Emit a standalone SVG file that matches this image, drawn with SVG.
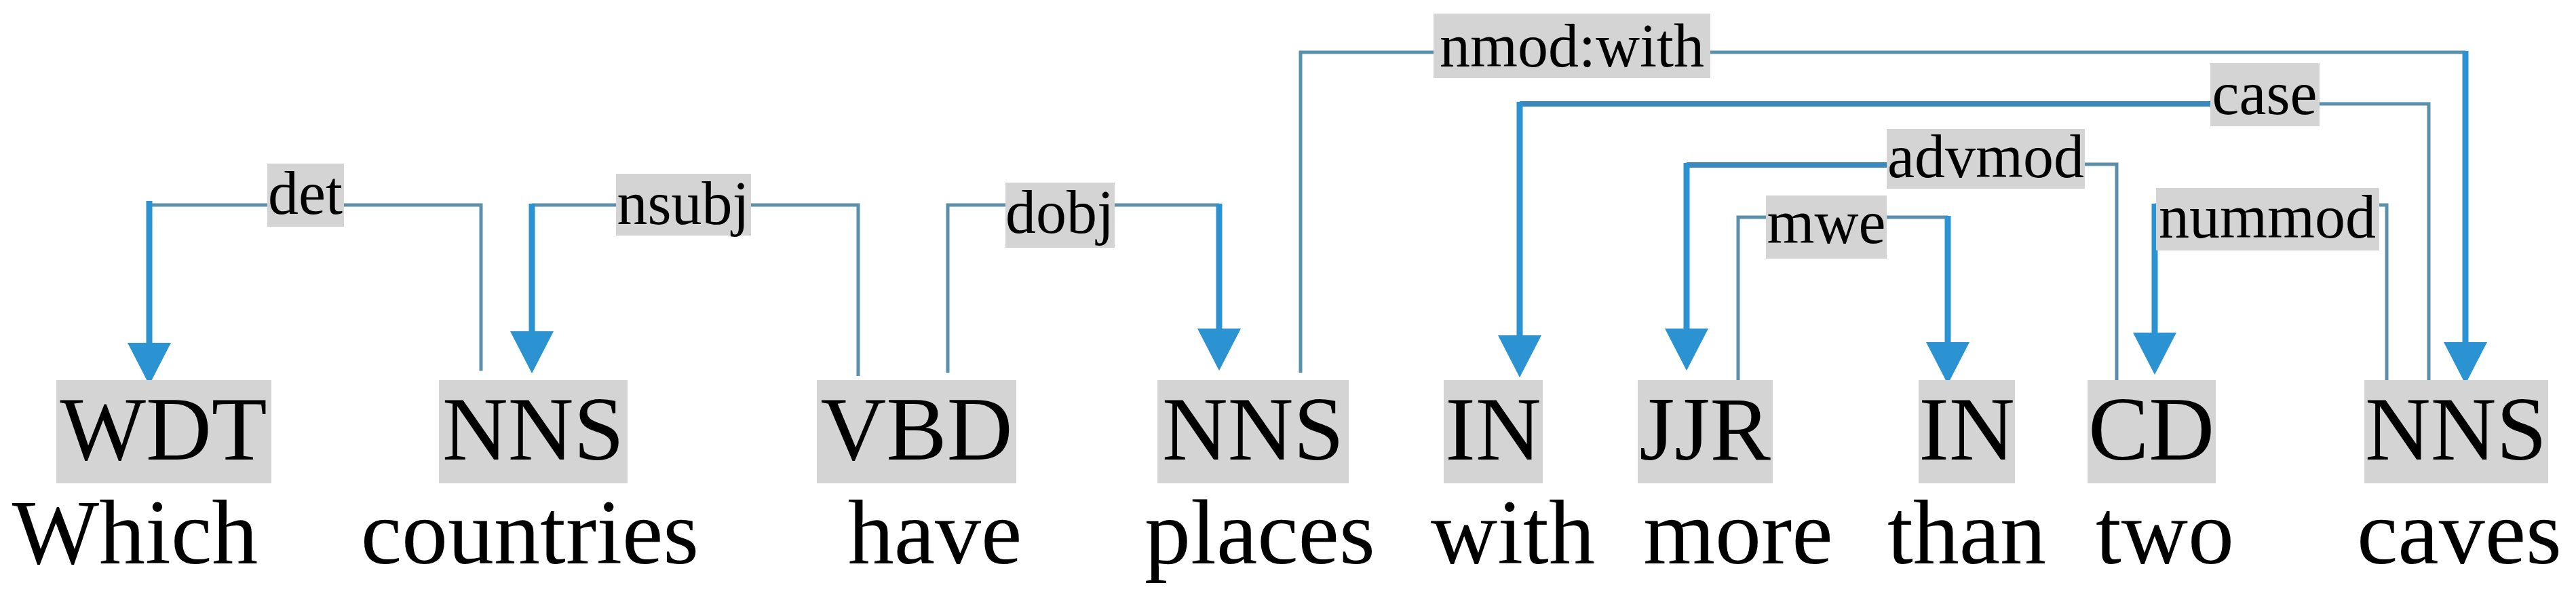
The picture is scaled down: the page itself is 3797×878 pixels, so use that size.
<svg xmlns="http://www.w3.org/2000/svg" width="3797" height="878" viewBox="0 0 3797 878">
<style>
.bg{fill:#ffffff}
.tagbox{fill:#d4d4d4}
.tag{font-family:'Liberation Serif','DejaVu Serif',serif;font-size:134px;fill:#000;text-anchor:middle}
.word{font-family:'Liberation Serif','DejaVu Serif',serif;font-size:136px;fill:#000;text-anchor:middle}
.thin{fill:none;stroke:#5a90ab;stroke-width:5}
.mid{fill:none;stroke:#3a88bd;stroke-width:8}
.thick{fill:none;stroke:#2b93d1;stroke-width:9;marker-end:url(#arr)}
.lblbox{fill:#d4d4d4}
.lbl{font-family:'Liberation Serif','DejaVu Serif',serif;font-size:90px;fill:#000;text-anchor:middle}
</style>
<defs>
<marker id="arr" viewBox="0 0 62 64" refX="0" refY="32" markerWidth="62" markerHeight="64" markerUnits="userSpaceOnUse" orient="auto">
<path d="M0,0 L62,32 L0,64 z" fill="#2b93d1"/>
</marker>
</defs>
<rect class="bg" x="0" y="0" width="3797" height="878"/>
<g id="connectors">
<g id="e-det">
<path class="thin" d="M709,546 V302 H220"/>
<path class="thick" d="M220,296 V505"/>
<rect class="lblbox" x="394" y="241" width="113" height="93"/>
<text class="lbl" x="450" y="315">det</text>
</g>
<g id="e-nsubj">
<path class="thin" d="M1265,554 V302 H784"/>
<path class="thick" d="M784,300 V488"/>
<rect class="lblbox" x="908" y="256" width="199" height="91"/>
<text class="lbl" x="1007" y="330">nsubj</text>
</g>
<g id="e-dobj">
<path class="thin" d="M1397,549 V302 H1797"/>
<path class="thick" d="M1797,300 V484"/>
<rect class="lblbox" x="1482" y="269" width="161" height="96"/>
<text class="lbl" x="1562" y="343">dobj</text>
</g>
<g id="e-nmod">
<path class="thin" d="M1917,549 V77 H3634"/>
<path class="thick" d="M3634,75 V504"/>
<rect class="lblbox" x="2113" y="20" width="408" height="95"/>
<text class="lbl" x="2317" y="98">nmod:with</text>
</g>
<g id="e-case">
<path class="thin" d="M3580,563 V153 H3300"/>
<path class="mid" d="M3300,153 H2240"/>
<path class="thick" d="M2240,150 V494"/>
<rect class="lblbox" x="3258" y="93" width="161" height="93"/>
<text class="lbl" x="3338" y="168">case</text>
</g>
<g id="e-advmod">
<path class="thin" d="M3120,577 V242 H2800"/>
<path class="mid" d="M2800,243 H2486"/>
<path class="thick" d="M2486,240 V484"/>
<rect class="lblbox" x="2781" y="190" width="292" height="88"/>
<text class="lbl" x="2927" y="261">advmod</text>
</g>
<g id="e-mwe">
<path class="thin" d="M2562,568 V320 H2871"/>
<path class="thick" d="M2871,318 V504"/>
<rect class="lblbox" x="2603" y="288" width="178" height="93"/>
<text class="lbl" x="2692" y="358">mwe</text>
</g>
<g id="e-nummod">
<path class="thin" d="M3518,566 V302 H3176"/>
<path class="thick" d="M3176,300 V490"/>
<rect class="lblbox" x="3178" y="277" width="329" height="92"/>
<text class="lbl" x="3342" y="350">nummod</text>
</g>
</g>
<g id="n-which">
<rect class="tagbox" x="83" y="560" width="317" height="152"/>
<text class="tag" x="241" y="677">WDT</text>
<text class="word" x="199" y="830">Which</text>
</g>
<g id="n-countries">
<rect class="tagbox" x="647" y="560" width="278" height="152"/>
<text class="tag" x="786" y="677">NNS</text>
<text class="word" x="781" y="830">countries</text>
</g>
<g id="n-have">
<rect class="tagbox" x="1204" y="560" width="294" height="152"/>
<text class="tag" x="1351" y="677">VBD</text>
<text class="word" x="1378" y="830">have</text>
</g>
<g id="n-places">
<rect class="tagbox" x="1706" y="560" width="282" height="152"/>
<text class="tag" x="1847" y="677">NNS</text>
<text class="word" x="1857" y="830">places</text>
</g>
<g id="n-with">
<rect class="tagbox" x="2128" y="560" width="146" height="152"/>
<text class="tag" x="2201" y="677">IN</text>
<text class="word" x="2230" y="830">with</text>
</g>
<g id="n-more">
<rect class="tagbox" x="2414" y="560" width="199" height="152"/>
<text class="tag" x="2513" y="677">JJR</text>
<text class="word" x="2562" y="830">more</text>
</g>
<g id="n-than">
<rect class="tagbox" x="2828" y="560" width="142" height="152"/>
<text class="tag" x="2899" y="677">IN</text>
<text class="word" x="2899" y="830">than</text>
</g>
<g id="n-two">
<rect class="tagbox" x="3077" y="560" width="189" height="152"/>
<text class="tag" x="3171" y="677">CD</text>
<text class="word" x="3191" y="830">two</text>
</g>
<g id="n-caves">
<rect class="tagbox" x="3485" y="560" width="271" height="152"/>
<text class="tag" x="3620" y="677">NNS</text>
<text class="word" x="3625" y="830">caves</text>
</g>
</svg>
